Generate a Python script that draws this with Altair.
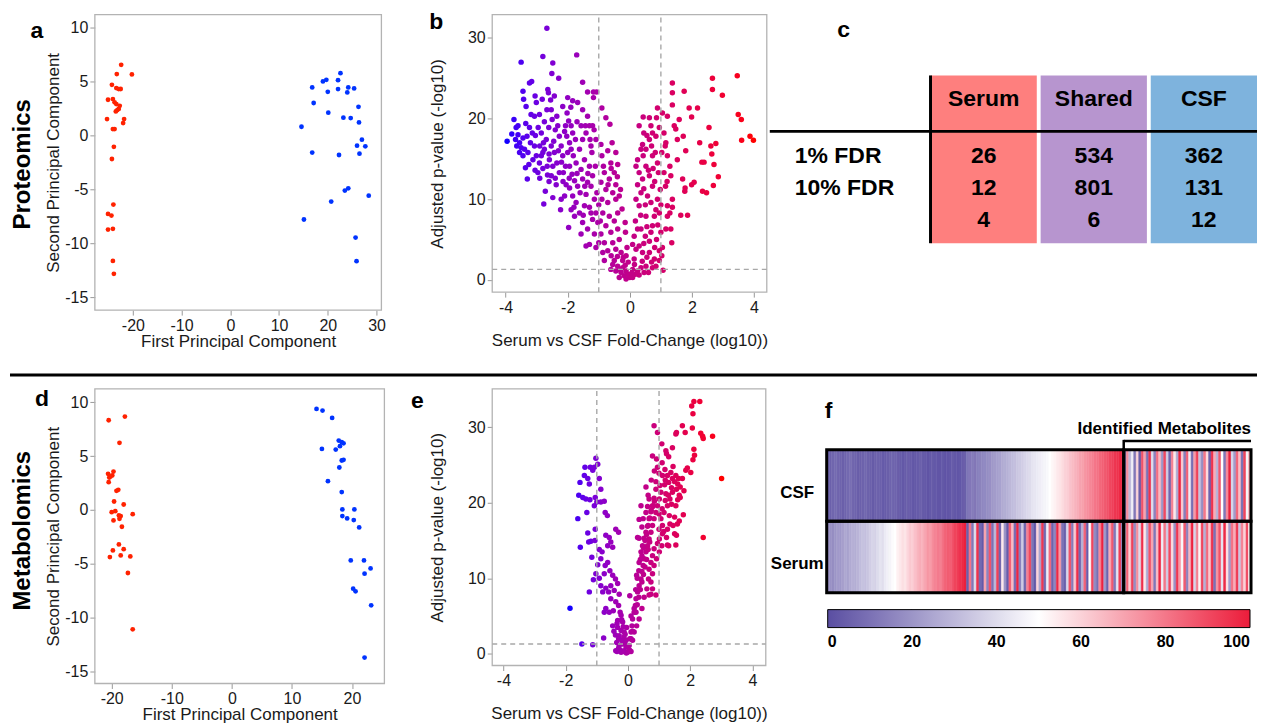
import altair as alt
import pandas as pd

FONT = "Liberation Sans"
INK = "#1a1a1a"
FRAME = "#b3b3b3"
RED = "#ff2200"
BLUE = "#0033ff"

# ---------------- Panel a : proteomics PCA ----------------
A_SERUM_X = [-22.4, -20.2, -23.3, -24.3, -23.4, -22.9, -22.5, -25.1, -24.1, -23.75, -23.4, -22.7, -23.5, -23.2, -22.9,
             -25.3, -21.8, -22.0, -24.1, -23.75, -23.9, -24.3, -24.0, -25.1, -24.4, -25.1, -24.1, -24.1, -23.9]
A_SERUM_Y = [6.54, 5.65, 5.68, 4.69, 4.38, 4.29, 4.30, 3.30, 3.36, 3.06, 2.90, 2.74, 2.22, 2.34, 2.45,
             1.51, 1.51, 1.14, 0.58, 0.58, -1.06, -2.19, -6.42, -7.28, -7.44, -8.73, -8.67, -11.64, -12.84]
A_CSF_X = [14.6, 16.8, 17.1, 16.8, 15.1, 19.0, 19.7, 20.0, 20.1, 22.1, 22.1, 22.6, 22.3, 20.7, 23.2,
           24.2, 24.0, 25.4, 24.7, 23.5, 24.2, 26.3, 26.4, 27.0, 26.0, 27.7, 26.5, 28.4, 25.7, 25.9]
A_CSF_Y = [0.80, 4.44, 3.0, -1.6, -7.8, 5.0, 5.15, 4.04, 2.1, 5.12, 4.29, 5.77, -1.82, -6.14, 1.64,
           4.44, 3.98, 4.35, 1.60, -5.12, -4.91, 2.65, 1.20, -0.40, -0.96, -1.02, -1.70, -5.59, -9.48, -11.67]

# ---------------- Panel d : metabolomics PCA ----------------
D_SERUM_X = [-20.5, -17.8, -18.7, -20.6, -20.4, -19.9, -19.7, -20.2, -20.5, -19.2, -18.9, -19.6, -18.0, -20.0, -19.4,
             -18.8, -18.5, -19.7, -18.7, -16.5, -18.3, -18.8, -19.8, -18.0, -18.5, -20.3, -16.9, -17.3, -16.5]
D_SERUM_Y = [8.33, 8.67, 6.23, 3.35, 3.0, 3.2, 3.56, 3.1, 2.57, 1.77, 1.86, 0.78, 0.50, -0.21, -0.12,
             -0.52, -0.58, -0.98, -0.83, -0.40, -1.57, -3.21, -3.77, -3.65, -4.23, -4.39, -4.33, -5.87, -11.1]
D_CSF_X = [14.1, 15.1, 16.7, 17.8, 18.3, 18.6, 18.0, 15.0, 17.3, 18.3, 18.6, 17.9, 16.0, 18.3, 18.4,
           20.4, 18.4, 19.2, 20.3, 21.2, 19.8, 22.0, 23.1, 22.1, 20.2, 20.6, 23.2, 22.1]
D_CSF_Y = [9.38, 9.23, 8.55, 6.44, 6.29, 6.19, 5.92, 5.67, 5.61, 4.59, 4.65, 3.94, 2.67, 1.65, 0.04,
           0.04, -0.58, -0.80, -0.95, -1.63, -4.70, -4.70, -5.44, -5.93, -7.33, -7.57, -8.87, -13.73]

# ---------------- Panel b : proteomics volcano (fold-change, -log10 p) ----------------
VB_FAR_LEFT = [(-3.95, 17.2), (-3.73, 19.9), (-3.66, 18.9), (-3.60, 18.0), (-3.68, 17.4), (-3.55, 17.0), (-3.64, 16.6),
               (-3.50, 16.4), (-3.39, 16.2), (-3.28, 15.8), (-3.44, 15.4), (-3.55, 15.8), (-3.36, 13.9), (-3.25, 14.3),
               (-3.30, 12.5), (-3.12, 14.9), (-3.07, 16.6), (-3.04, 17.9), (-3.14, 18.2), (-3.23, 18.9), (-3.18, 20.5),
               (-3.07, 20.3), (-3.23, 24.4), (-3.42, 22.4), (-3.31, 17.8), (-3.44, 17.6), (-3.01, 15.4), (-3.50, 27.0),
               (-3.16, 24.6), (-3.44, 23.4), (-3.05, 22.8), (-3.60, 19.1), (-3.34, 21.5), (-3.8, 18.1), (-3.35, 19.4),
               (-3.2, 17.0), (-3.05, 13.6)]
VB_LEFT = [(-2.67, 31.2), (-2.80, 27.7), (-2.48, 26.9), (-2.51, 25.6), (-2.29, 25.0), (-2.64, 23.6), (-2.62, 23.2),
           (-2.43, 22.8), (-2.0, 22.6), (-1.84, 22.2), (-1.71, 27.9), (-1.52, 24.5), (-1.36, 23.3), (-1.17, 23.3),
           (-1.07, 23.3), (-2.96, 13.3), (-2.91, 14.5), (-2.85, 15.4), (-2.80, 15.8), (-2.72, 11.0), (-2.77, 9.4),
           (-2.66, 14.1), (-2.59, 14.9), (-2.53, 12.9), (-2.48, 14.1), (-2.43, 15.8), (-2.53, 16.6), (-2.69, 17.4),
           (-2.85, 18.2), (-2.78, 17.0), (-2.61, 18.9), (-2.50, 19.9), (-2.67, 21.1), (-2.53, 21.1), (-2.91, 20.5),
           (-3.01, 22.0), (-2.82, 22.4), (-2.35, 20.3), (-2.32, 19.1), (-2.27, 17.8), (-2.21, 16.6), (-2.16, 15.4),
           (-2.35, 14.5), (-2.27, 13.3), (-2.37, 11.8), (-2.48, 10.2), (-2.21, 10.0), (-2.23, 8.7), (-2.10, 10.4),
           (-2.05, 11.8), (-2.14, 13.3), (-2.07, 14.1), (-2.03, 17.8), (-2.07, 19.1), (-2.16, 21.5), (-2.02, 20.7),
           (-2.9, 16.6), (-2.75, 16.2), (-2.6, 15.6), (-2.45, 17.2), (-2.3, 16.0), (-2.2, 14.6), (-2.0, 15.8),
           (-2.6, 12.2), (-2.4, 12.6), (-2.15, 12.2), (-2.95, 18.9), (-2.75, 19.6), (-2.4, 18.6), (-2.1, 18.4),
           (-2.55, 22.3), (-2.8, 13.8), (-2.65, 13.0), (-2.9, 12.6)]
VB_MID_LEFT = [(-1.97, 19.7), (-1.89, 19.1), (-1.84, 18.2), (-1.75, 17.4), (-1.94, 17.0), (-1.89, 16.2), (-1.82, 15.4),
               (-1.73, 14.5), (-1.94, 14.1), (-1.86, 13.1), (-1.78, 12.3), (-1.68, 11.6), (-1.94, 11.4), (-1.84, 10.4),
               (-1.73, 9.6), (-1.89, 8.7), (-1.97, 6.5), (-1.78, 7.9), (-1.62, 8.3), (-1.57, 5.7), (-1.52, 7.1),
               (-1.46, 9.2), (-1.41, 10.6), (-1.36, 12.1), (-1.52, 12.5), (-1.57, 13.7), (-1.46, 14.9), (-1.62, 16.2),
               (-1.52, 17.4), (-1.41, 18.2), (-1.57, 19.1), (-1.43, 19.1), (-1.30, 19.1), (-1.20, 19.1), (-1.68, 22.0),
               (-1.52, 21.1), (-1.36, 20.3), (-1.28, 17.4), (-1.22, 15.8), (-1.30, 14.1), (-1.20, 12.9), (-1.25, 11.6),
               (-1.14, 10.0), (-1.30, 9.0), (-1.20, 7.5), (-1.36, 6.3), (-1.41, 4.2), (-1.30, 4.4), (-1.09, 4.0),
               (-1.00, 4.6), (-1.14, 5.7), (-1.03, 7.1), (-1.09, 8.3), (-1.06, 10.8), (-1.11, 14.1), (-1.09, 17.4),
               (-1.17, 22.6), (-1.95, 12.6), (-1.7, 13.2), (-1.6, 10.8), (-1.45, 11.6), (-1.35, 13.2), (-1.25, 16.6),
               (-1.15, 18.6), (-1.8, 9.0), (-1.5, 8.0), (-1.25, 8.3), (-1.9, 21.4), (-1.7, 19.6)]
VB_CENTER_LEFT = [(-0.93, 16.8), (-0.90, 15.4), (-0.85, 14.1), (-0.82, 13.3), (-0.93, 12.1), (-0.77, 11.2), (-0.90, 10.0),
                  (-0.71, 9.6), (-0.87, 8.3), (-0.66, 7.9), (-0.77, 6.7), (-0.93, 5.7), (-0.61, 5.9), (-0.82, 4.6),
                  (-0.55, 4.6), (-0.87, 3.4), (-0.71, 3.6), (-0.82, 2.4), (-0.45, 3.8), (-0.34, 5.0), (-0.39, 6.3),
                  (-0.50, 7.3), (-0.39, 8.3), (-0.45, 10.0), (-0.55, 10.8), (-0.45, 11.8), (-0.66, 12.5), (-0.50, 13.3),
                  (-0.61, 14.5), (-0.39, 14.3), (-0.71, 16.0), (-0.57, 17.0), (-0.45, 15.8), (-0.64, 19.3), (-0.77, 20.1),
                  (-0.90, 21.3), (-0.34, 10.4), (-0.28, 3.4), (-0.23, 2.4), (-0.55, 1.9), (-0.39, 1.7), (-0.23, 1.5),
                  (-0.12, 1.1), (-0.07, 0.7), (0.0, 0.3), (-0.18, 0.5), (-0.28, 0.9), (-0.45, 1.1), (-0.61, 1.3),
                  (-0.34, 0.3), (-0.12, 0.1), (-0.21, 2.8), (-0.12, 3.0), (-0.09, 4.0), (-0.14, 5.9), (-0.15, 7.1),
                  (-0.95, 7.3), (-1.0, 9.3), (-0.7, 11.8), (-0.6, 13.8), (-0.4, 12.8), (-0.3, 11.2), (-0.25, 8.8),
                  (-0.6, 3.0), (-0.5, 2.4), (-0.4, 2.9), (-0.3, 1.2), (-0.15, 1.8), (-0.05, 2.2)]
VB_CENTER_RIGHT = [(0.09, 0.3), (0.18, 0.7), (0.25, 1.1), (0.36, 1.5), (0.09, 1.3), (0.46, 0.9), (0.52, 1.7), (0.73, 1.5),
                   (0.84, 1.7), (0.95, 2.4), (0.79, 2.6), (0.63, 3.4), (0.14, 2.6), (0.20, 3.8), (0.09, 4.4), (0.30, 4.2),
                   (0.41, 3.4), (0.14, 5.4), (0.25, 6.3), (0.18, 7.3), (0.36, 6.3), (0.50, 5.4), (0.63, 4.8), (0.68, 5.9),
                   (0.73, 6.7), (0.86, 5.0), (0.52, 7.9), (0.30, 9.2), (0.20, 10.0), (0.36, 10.8), (0.25, 11.8),
                   (0.41, 12.5), (0.30, 13.3), (0.20, 14.1), (0.25, 14.9), (0.43, 15.4), (0.52, 14.1), (0.63, 12.9),
                   (0.73, 11.6), (0.57, 10.4), (0.68, 9.6), (0.84, 8.7), (0.95, 8.3), (0.79, 7.9), (0.52, 16.2),
                   (0.63, 17.4), (0.73, 18.2), (0.84, 17.8), (0.68, 19.1), (0.30, 19.1), (0.43, 20.2), (0.63, 20.1),
                   (0.86, 20.1), (0.89, 21.3), (0.82, 15.8), (0.89, 14.5), (0.92, 13.3), (0.73, 15.4), (0.41, 16.8),
                   (0.36, 16.2), (0.98, 11.2), (0.89, 10.0), (1.0, 5.9), (0.05, 0.8), (0.15, 1.9), (0.3, 0.6),
                   (0.4, 2.3), (0.55, 2.8), (0.7, 2.2), (0.6, 0.9), (0.45, 4.5), (0.55, 6.6), (0.35, 8.0), (0.5, 9.3),
                   (0.45, 11.3), (0.6, 13.6), (0.75, 13.8), (0.8, 12.2), (0.55, 17.9), (0.7, 16.6), (0.45, 18.2),
                   (0.95, 18.9), (0.9, 6.8), (0.8, 4.0), (0.95, 3.6)]
VB_RIGHT = [(1.05, 20.7), (1.21, 20.3), (1.10, 18.2), (1.16, 17.0), (1.03, 15.8), (1.14, 16.6), (1.21, 15.4), (1.29, 14.1),
            (1.10, 13.3), (1.32, 12.9), (1.21, 9.2), (1.37, 10.0), (1.29, 8.3), (1.37, 9.0), (1.21, 7.9), (1.16, 6.3),
            (1.32, 6.3), (1.35, 4.6), (1.05, 4.0), (1.03, 3.0), (1.07, 1.2), (1.37, 24.4), (1.37, 23.2), (1.37, 21.7),
            (1.43, 19.1), (1.53, 17.4), (1.48, 18.7), (1.75, 23.4), (1.59, 19.9), (1.72, 17.8), (1.53, 14.9),
            (1.70, 12.5), (1.78, 11.4), (1.77, 11.0), (1.80, 16.0), (1.64, 8.0), (1.86, 8.0), (1.91, 21.3),
            (1.99, 20.2), (1.99, 11.8), (1.15, 11.6), (1.2, 12.2), (1.0, 9.3), (2.18, 21.3), (2.07, 12.1),
            (2.25, 17.0), (2.32, 14.6), (2.39, 14.6), (2.34, 11.0), (2.47, 10.8), (2.55, 18.9), (2.61, 16.6),
            (2.64, 15.6), (2.66, 25.0), (2.66, 23.6), (2.71, 14.3), (2.69, 11.7), (2.77, 16.9), (2.85, 12.8),
            (2.98, 22.9), (3.46, 25.3), (3.49, 20.5), (3.60, 17.3), (3.59, 19.9), (3.87, 17.8), (3.98, 17.3)]

# ---------------- Panel e : metabolomics volcano ----------------
VE_LEFT = [(-1.86, 6.04), (-1.61, 17.9), (-1.53, 14.1), (-1.48, 1.3), (-1.13, 1.2), (-1.54, 22.7), (-1.58, 21.0),
           (-1.38, 24.7), (-1.40, 23.6), (-1.29, 23.2), (-1.24, 22.5), (-1.21, 24.7), (-1.13, 24.3), (-1.03, 25.9),
           (-0.97, 25.1), (-1.08, 24.7), (-0.92, 23.2), (-0.87, 21.8), (-1.45, 20.7), (-1.35, 20.5), (-1.22, 20.4),
           (-1.08, 19.6), (-1.0, 20.1), (-0.87, 20.1), (-0.76, 20.2), (-0.73, 18.7), (-0.66, 18.3), (-1.05, 20.7),
           (-1.32, 18.7), (-1.29, 16.0), (-1.19, 14.9), (-1.06, 15.0), (-1.26, 14.8), (-1.05, 16.5), (-1.16, 12.8),
           (-0.92, 13.8), (-0.83, 13.5), (-0.87, 12.6), (-0.97, 11.8), (-0.73, 11.7), (-0.65, 12.1), (-0.60, 15.4),
           (-0.55, 14.8), (-0.65, 14.3), (-0.49, 14.1), (-0.39, 16.5), (-0.30, 16.1), (-0.71, 15.7), (-1.03, 10.6),
           (-1.11, 9.8), (-0.92, 10.0), (-0.76, 10.6), (-0.58, 11.0), (-0.49, 10.4), (-0.40, 9.9), (-0.87, 9.0),
           (-0.71, 8.7), (-0.55, 9.0), (-0.33, 9.3), (-1.24, 8.2), (-0.81, 8.2), (-0.62, 8.2), (-0.44, 8.4),
           (-0.28, 7.9), (-0.55, 7.3), (-0.39, 6.9), (-0.71, 6.0), (-0.76, 5.5), (-0.60, 5.5), (-0.47, 5.7),
           (-0.30, 6.4), (-0.78, 2.1)]
VE_CENTER = [(-0.22, 5.1), (-0.33, 4.4), (-0.17, 4.2), (-0.49, 3.7), (-0.33, 3.5), (-0.22, 3.1), (-0.12, 2.9),
             (-0.28, 2.4), (-0.13, 2.2), (-0.36, 1.5), (-0.28, 1.1), (-0.17, 1.3), (-0.06, 0.9), (-0.39, 0.4),
             (-0.22, 0.2), (-0.12, 0.4), (-0.01, 0.2), (-0.30, 0.75), (-0.06, 1.8), (-0.09, 2.6), (-0.04, 3.5),
             (0.04, 1.1), (0.06, 2.0), (0.10, 2.9), (0.13, 3.7), (0.15, 4.6), (0.20, 5.5), (0.24, 6.4), (0.06, 7.7),
             (0.05, 0.5), (0.1, 0.3), (-0.05, 0.1), (-0.15, 0.3), (-0.25, 0.5), (-0.35, 0.3), (-0.1, 1.5),
             (-0.2, 1.8), (-0.3, 2.0), (-0.4, 2.5), (-0.45, 3.0), (-0.35, 4.0), (-0.25, 5.5), (-0.2, 4.5),
             (-0.15, 3.6), (0.1, 5.0), (0.2, 6.0), (0.15, 3.0), (0.1, 2.0)]
VE_RIGHT = [(0.26, 7.3), (0.31, 8.2), (0.36, 9.0), (0.42, 9.9), (0.28, 10.4), (0.45, 10.9), (0.49, 11.7), (0.52, 12.6),
            (0.36, 12.1), (0.58, 13.5), (0.42, 13.5), (0.63, 14.3), (0.47, 14.3), (0.68, 15.2), (0.52, 15.3),
            (0.36, 15.3), (0.74, 16.1), (0.58, 16.1), (0.79, 17.0), (0.63, 16.9), (0.45, 16.8), (0.84, 17.9),
            (0.68, 17.9), (0.49, 17.9), (0.90, 18.7), (0.74, 18.8), (0.58, 18.7), (0.95, 19.6), (0.79, 19.6),
            (0.63, 19.5), (0.42, 19.6), (0.36, 17.8), (0.31, 15.4), (1.01, 20.5), (0.84, 20.6), (0.68, 20.5),
            (0.58, 22.1), (1.06, 21.4), (1.22, 21.2), (0.90, 21.8), (1.03, 22.3), (1.18, 22.4), (1.31, 22.7),
            (1.27, 23.6), (1.43, 23.2), (1.11, 23.6), (1.38, 24.0), (1.54, 23.6), (1.19, 24.4), (1.45, 24.8),
            (1.63, 23.2), (1.75, 23.2), (1.56, 21.8), (1.68, 22.1), (1.80, 21.6), (1.65, 21.0), (1.43, 21.4),
            (1.35, 20.5), (1.54, 19.6), (1.68, 20.7), (1.27, 19.6), (1.16, 18.7), (1.33, 18.3), (1.50, 18.1),
            (1.65, 17.6), (1.45, 17.0), (1.06, 17.9), (1.11, 17.0), (1.27, 16.5), (1.50, 15.9), (1.56, 15.7),
            (1.24, 15.4), (1.11, 15.9), (1.01, 15.2), (0.95, 14.6), (1.09, 14.3), (1.27, 14.4), (0.84, 13.9),
            (1.01, 13.5), (0.79, 13.0), (0.92, 12.6), (0.74, 12.1), (0.84, 11.7), (0.68, 11.2), (0.79, 10.6),
            (0.66, 9.9), (0.74, 9.5), (0.61, 8.6), (0.79, 8.6), (0.52, 7.5), (0.68, 7.8), (0.45, 6.0), (0.36, 4.6),
            (0.28, 3.7), (0.20, 2.9), (0.15, 1.8), (0.26, 5.5), (0.90, 7.8), (0.74, 7.9), (1.31, 14.3),
            (1.54, 14.4), (1.78, 18.4), (1.59, 17.2), (0.25, 8.5), (0.3, 10.0), (0.35, 11.0), (0.4, 12.5),
            (0.45, 13.0), (0.5, 14.0), (0.55, 15.0), (0.6, 15.8), (0.65, 17.0), (0.7, 18.0), (0.75, 19.0),
            (0.8, 19.5), (0.85, 20.2), (0.55, 11.5), (0.6, 12.5), (0.65, 13.8), (0.7, 14.8), (0.45, 9.5),
            (0.5, 10.5), (0.35, 7.5), (0.4, 8.5), (0.3, 6.5), (1.0, 18.5), (1.1, 19.2), (1.2, 20.3), (1.3, 21.0),
            (1.4, 22.0), (1.5, 22.8), (1.6, 22.5), (1.0, 16.5), (1.15, 16.2), (1.35, 17.2), (1.4, 19.8),
            (1.6, 20.4), (1.2, 23.0), (1.0, 23.9), (0.9, 22.8), (0.95, 24.7), (1.1, 25.3), (0.65, 21.0),
            (0.75, 23.0), (0.85, 24.2)]
VE_TOP = [(0.79, 26.2), (0.92, 25.8), (0.84, 30.2), (0.95, 29.3), (1.09, 27.8), (1.22, 26.9), (1.24, 26.5),
          (1.31, 26.1), (1.43, 27.3), (1.54, 29.1), (1.56, 29.3), (1.75, 30.2), (1.84, 29.3), (2.07, 29.9),
          (2.05, 32.8), (2.09, 31.8), (2.12, 33.4), (2.31, 33.4), (2.34, 29.2), (2.40, 28.8), (2.42, 28.5),
          (2.12, 27.1), (2.14, 26.3), (2.09, 25.7), (2.02, 24.0), (1.91, 24.6), (1.86, 24.3), (2.72, 28.8),
          (3.01, 23.2), (2.42, 15.4)]

P_CUTOFF = 1.3
FC_CUTOFFS = [-1, 1]

# ---------------- Panel c : table ----------------
TBL_COLS = ["Serum", "Shared", "CSF"]
TBL_FILLS = ["#fe7f7e", "#b795cf", "#7eb3dd"]
TBL_ROW_IDS = ["r1", "r2", "r3"]
TBL_ROW_LABELS = ["1% FDR", "10% FDR", ""]
TBL_SERUM = [26, 12, 4]
TBL_SHARED = [534, 801, 6]
TBL_CSF = [362, 131, 12]

# ---------------- Panel f : heatmap percentiles ----------------
CSF_UNID = [6, 5, 7, 8, 7, 6, 5, 6, 8, 9, 7, 6, 5, 5, 6, 7, 6, 5, 4, 5, 6, 5, 4, 4, 5, 6, 7, 6, 5, 4, 3, 4, 5, 4, 3, 3,
            4, 5, 4, 3, 2, 3, 4, 3, 2, 2, 3, 2, 2, 3, 4, 3, 2, 3, 4, 5,
            11, 12, 13, 12, 14, 15, 16, 17, 18, 19, 21, 22, 23, 24, 26, 27, 28, 30, 31, 32, 34, 35, 36, 38, 39, 40,
            42, 43, 44, 45, 46, 47, 48, 50,
            52, 53, 55, 56, 58, 60, 61, 63, 65, 66, 68, 70, 71, 73, 75, 76, 78, 80, 81, 83, 85, 86, 88, 90, 92, 94,
            95, 97, 99]
CSF_ID = [8, 75, 30, 45, 12, 60, 5, 88, 70, 10, 95, 40, 15, 82, 65, 20, 90, 35, 7, 78, 55, 25, 98, 62, 14, 85, 45, 9,
          72, 92, 33, 18, 80, 58, 6, 95, 68, 28, 87, 50, 12, 76, 99, 38, 22, 84, 64, 10, 91, 47, 70]
SERUM_SORTED = [18, 19, 18, 20, 22, 21, 23, 25, 24, 26, 28, 27, 29, 31, 33, 32, 34, 36, 38, 37, 40, 42, 41, 44, 46,
                47, 49, 50, 53, 55, 57, 56, 59, 62, 61, 64, 66, 68, 67, 70, 73, 72, 75, 77, 79, 78, 81, 84, 86, 85,
                88, 91, 93, 95, 97, 99]
SERUM_REST = [5, 80, 12, 40, 95, 8, 3, 70, 15, 88, 10, 30, 92, 6, 55, 20, 4, 85, 65, 9, 98, 14, 35, 7, 78, 90, 11, 3,
              60, 25, 94, 8, 45, 82, 6, 16, 97, 72, 10, 5, 38, 88, 13, 62, 96, 7, 28, 84, 4, 50, 91, 18, 9, 76, 99,
              22, 6, 68, 87, 12, 42, 93, 15]
SERUM_ID = [30, 85, 60, 92, 18, 75, 40, 96, 55, 25, 88, 70, 12, 65, 98, 45, 80, 35, 90, 58, 20, 94, 72, 48, 86, 15,
            66, 99, 38, 78, 52, 91, 28, 83, 62, 95, 10, 74, 88, 42, 97, 57, 22, 81, 68, 93, 34, 77, 60, 89, 50]
HEAT_ROWS = ["CSF", "Serum"]
HEAT_TICKS = [0, 20, 40, 60, 80, 100]
HEAT_MINOR = [20, 40, 60, 80]

# ================= layout constants (pixels) =================
ROW2 = 375          # top of the second row of panels, relative to the top of the first row
COL_GAP = 108
COL1_W, COL2_W, COL3_W = 290, 275, 383
C_OFF = 56          # table divider, relative to column 3 left edge
F_OFF = -48         # heatmap left edge, relative to column 3 left edge
PLAIN_LABEL = "'' + datum.value"   # hyphen-minus tick labels


def one_text(text, x, y, size, angle=0, align="center", weight="bold"):
    kw = dict(fontSize=size, fontWeight=weight, font=FONT, align=align, baseline="middle", color="black")
    if angle:
        kw["angle"] = angle
    return alt.Chart(pd.DataFrame({"t": [text]})).mark_text(**kw).encode(
        x=alt.value(x), y=alt.value(y), text="t:N")


def pca_panel(sx, sy, cx, cy, xdom, ydom, xticks, xrange, yrange, xoff, letter, lxy, row_label, rxy):
    xsc = alt.Scale(domain=xdom, range=xrange, nice=False, zero=False)
    ysc = alt.Scale(domain=ydom, range=yrange, nice=False, zero=False)
    xax = alt.Axis(values=xticks, title="First Principal Component", titlePadding=0, orient="bottom",
                   offset=xoff, labelExpr=PLAIN_LABEL)
    yax = alt.Axis(values=[-15, -10, -5, 0, 5, 10], title="Second Principal Component", titlePadding=2,
                   orient="left", labelExpr=PLAIN_LABEL)
    df = pd.DataFrame({
        "pc1": list(sx) + list(cx),
        "pc2": list(sy) + list(cy),
        "group": ["Serum"] * len(sx) + ["CSF"] * len(cx),
    })
    frame = alt.Chart(pd.DataFrame({"pc1": [xdom[0]], "pc1e": [xdom[1]], "pc2": [ydom[0]], "pc2e": [ydom[1]]})
                      ).mark_rect(filled=False, stroke=FRAME, strokeWidth=1.3).encode(
        x=alt.X("pc1:Q", scale=xsc, axis=xax), x2="pc1e:Q",
        y=alt.Y("pc2:Q", scale=ysc, axis=yax), y2="pc2e:Q")
    pts = alt.Chart(df).mark_circle(size=23, opacity=1).encode(
        x=alt.X("pc1:Q", scale=xsc, axis=xax),
        y=alt.Y("pc2:Q", scale=ysc, axis=yax),
        color=alt.Color("group:N", scale=alt.Scale(domain=["Serum", "CSF"], range=[RED, BLUE]), legend=None),
    )
    return alt.layer(frame, pts, one_text(letter, lxy[0], lxy[1], 23),
                     one_text(row_label, rxy[0], rxy[1], 24, angle=270))


def volcano_panel(point_lists, xdom, ydom, xrange, yrange, xoff, letter, lxy):
    pts_all = [p for lst in point_lists for p in lst]
    df = pd.DataFrame({"fc": [p[0] for p in pts_all], "p": [p[1] for p in pts_all]})
    cmin, cmax = float(df["fc"].min()), float(df["fc"].max())
    xsc = alt.Scale(domain=xdom, range=xrange, nice=False, zero=False)
    ysc = alt.Scale(domain=ydom, range=yrange, nice=False, zero=False)
    xax = alt.Axis(values=[-4, -2, 0, 2, 4], title="Serum vs CSF Fold-Change (log10))", titlePadding=17,
                   orient="bottom", offset=xoff, labelExpr=PLAIN_LABEL)
    yax = alt.Axis(values=[0, 10, 20, 30], title="Adjusted p-value (-log10)", titlePadding=21, orient="left",
                   labelExpr=PLAIN_LABEL)
    frame = alt.Chart(pd.DataFrame({"fc": [xdom[0]], "fce": [xdom[1]], "p": [ydom[0]], "pe": [ydom[1]]})
                      ).mark_rect(filled=False, stroke=FRAME, strokeWidth=1.3).encode(
        x=alt.X("fc:Q", scale=xsc, axis=xax), x2="fce:Q",
        y=alt.Y("p:Q", scale=ysc, axis=yax), y2="pe:Q")
    pts = alt.Chart(df).mark_circle(size=30, opacity=1).encode(
        x=alt.X("fc:Q", scale=xsc, axis=xax),
        y=alt.Y("p:Q", scale=ysc, axis=yax),
        color=alt.Color("fc:Q", scale=alt.Scale(domain=[cmin, cmax], range=["#1400ff", "#ff0000"],
                                                interpolate="lab"), legend=None),
    )
    dash = dict(color="#a8a8a8", strokeDash=[5, 4], strokeWidth=1.4)
    vl_df = pd.DataFrame({"fc": FC_CUTOFFS, "p": [ydom[0]] * len(FC_CUTOFFS), "pe": [ydom[1]] * len(FC_CUTOFFS)})
    vlines = alt.Chart(vl_df).mark_rule(**dash).encode(
        x=alt.X("fc:Q", scale=xsc, axis=xax), y=alt.Y("p:Q", scale=ysc, axis=yax), y2="pe:Q")
    hl_df = pd.DataFrame({"p": [P_CUTOFF], "fc": [xdom[0]], "fce": [xdom[1]]})
    hline = alt.Chart(hl_df).mark_rule(**dash).encode(
        y=alt.Y("p:Q", scale=ysc, axis=yax), x=alt.X("fc:Q", scale=xsc, axis=xax), x2="fce:Q")
    return alt.layer(frame, pts, vlines, hline, one_text(letter, lxy[0], lxy[1], 23))


# ================= column 1 : a (top) and d (bottom) =================
panel_a = pca_panel(A_SERUM_X, A_SERUM_Y, A_CSF_X, A_CSF_Y, [-27.8, 31.0], [-16.2, 11.2],
                    [-20, -10, 0, 10, 20, 30], [0, 287], [296, 0], 296 - (ROW2 + 295),
                    "a", (-58, 16), "Proteomics", (-72, 150))
panel_d = pca_panel(D_SERUM_X, D_SERUM_Y, D_CSF_X, D_CSF_Y, [-22.8, 25.4], [-16.14, 11.24],
                    [-20, -10, 0, 10, 20], [0, 290], [ROW2 + 295, ROW2], 0,
                    "d", (-53, ROW2 + 10), "Metabolomics", (-72, ROW2 + 142))
one = pd.DataFrame({"k": [0]})
separator = alt.Chart(one).mark_rule(color="black", strokeWidth=3).encode(
    x=alt.value(-85), x2=alt.value(1164), y=alt.value(ROW2 - 14))
col1 = alt.layer(panel_a, panel_d, separator).resolve_scale(
    x="independent", y="independent", color="independent").properties(width=COL1_W, height=ROW2 + 295)

# ================= column 2 : b (top) and e (bottom) =================
panel_b = volcano_panel([VB_FAR_LEFT, VB_LEFT, VB_MID_LEFT, VB_CENTER_LEFT, VB_CENTER_RIGHT, VB_RIGHT],
                        [-4.43, 4.41], [-1.52, 32.9], [0, 275], [278, 0], 278 - (ROW2 + 277), "b", (-56, 7))
panel_e = volcano_panel([VE_LEFT, VE_CENTER, VE_RIGHT, VE_TOP],
                        [-4.36, 4.43], [-1.55, 35.07], [0, 274], [ROW2 + 277, ROW2], 0, "e", (-75, ROW2 + 12))
col2 = alt.layer(panel_b, panel_e).resolve_scale(
    x="independent", y="independent", color="independent").properties(width=COL2_W, height=ROW2 + 277)

# ================= column 3 : c (table) and f (heatmap) =================
GAP = 0.035
hdr_df = pd.DataFrame({"col": TBL_COLS, "ci": [0, 1, 2]})
body_rows = []
for ci, (col, vals) in enumerate(zip(TBL_COLS, [TBL_SERUM, TBL_SHARED, TBL_CSF])):
    for rid, v in zip(TBL_ROW_IDS, vals):
        body_rows.append({"col": col, "ci": ci, "rowid": rid, "val": v})
body_df = pd.DataFrame(body_rows)
rowlab_df = pd.DataFrame({"rowid": TBL_ROW_IDS, "label": TBL_ROW_LABELS})

tx = alt.Scale(domain=[0, 3 - GAP], range=[C_OFF, C_OFF + 327], nice=False, zero=False)
ty = alt.Scale(domain=TBL_ROW_IDS, range=[142, 206], padding=0)

cells = alt.Chart(hdr_df).transform_calculate(ce=f"datum.ci + {1 - GAP}").mark_rect().encode(
    x=alt.X("ci:Q", scale=tx, axis=None), x2="ce:Q", y=alt.value(61), y2=alt.value(229),
    color=alt.Color("col:N", scale=alt.Scale(domain=TBL_COLS, range=TBL_FILLS), legend=None))
hdr_txt = alt.Chart(hdr_df).transform_calculate(cm=f"datum.ci + {(1 - GAP) / 2}").mark_text(
    font=FONT, fontSize=23, fontWeight="bold", color="black", baseline="middle").encode(
    x=alt.X("cm:Q", scale=tx, axis=None), y=alt.value(85), text="col:N")
body_txt = alt.Chart(body_df).transform_calculate(cm=f"datum.ci + {(1 - GAP) / 2}").mark_text(
    font=FONT, fontSize=23, fontWeight="bold", color="black", baseline="middle").encode(
    x=alt.X("cm:Q", scale=tx, axis=None), y=alt.Y("rowid:N", scale=ty, axis=None), text="val:Q")
row_txt = alt.Chart(rowlab_df).mark_text(font=FONT, fontSize=23, fontWeight="bold", color="black",
                                         align="left", baseline="middle").encode(
    x=alt.value(C_OFF - 136), y=alt.Y("rowid:N", scale=ty, axis=None), text="label:N")
hrule = alt.Chart(one).mark_rule(color="black", strokeWidth=3).encode(
    x=alt.value(C_OFF - 161), x2=alt.value(C_OFF + 327), y=alt.value(117))
vrule = alt.Chart(one).mark_rule(color="black", strokeWidth=3).encode(
    x=alt.value(C_OFF), y=alt.value(61), y2=alt.value(229))
panel_c = alt.layer(cells, hdr_txt, body_txt, row_txt, hrule, vrule, one_text("c", C_OFF - 87, 15, 23))

csf_vals = CSF_UNID + CSF_ID
serum_vals = SERUM_SORTED + SERUM_REST + SERUM_ID
N = len(csf_vals)
n_unid = len(CSF_UNID)
heat_df = pd.DataFrame({
    "i": list(range(N)) * 2,
    "row": [HEAT_ROWS[0]] * N + [HEAT_ROWS[1]] * N,
    "val": csf_vals + serum_vals,
})
heat_scale = alt.Scale(domain=[0, 50, 100], range=["#5a4ea2", "#ffffff", "#ec1c3a"], interpolate="rgb")
hx = alt.Scale(domain=[0, N], range=[F_OFF, F_OFF + 425], nice=False, zero=False)
hy = alt.Scale(domain=HEAT_ROWS, range=[ROW2 + 61, ROW2 + 204], paddingInner=0, paddingOuter=0)
hy_axis = alt.Axis(title=None, ticks=False, domain=False, labelFontSize=17, labelFontWeight="bold",
                   labelAlign="center", labelPadding=-F_OFF + 30, labelColor="black", orient="left",
                   labelOffset=7)
heat = alt.Chart(heat_df).transform_calculate(i2="datum.i + 1").mark_rect(strokeWidth=0.5).encode(
    x=alt.X("i:Q", scale=hx, axis=None),
    x2="i2:Q",
    y=alt.Y("row:N", scale=hy, axis=hy_axis),
    color=alt.Color("val:Q", scale=heat_scale, legend=alt.Legend(
        orient="none", legendX=F_OFF + 1, legendY=ROW2 + 221, direction="horizontal", gradientLength=423,
        gradientThickness=18, title=None, values=HEAT_TICKS, labelFontSize=16, labelFontWeight="bold",
        labelColor="black", labelFont=FONT, gradientStrokeColor="black", gradientStrokeWidth=1,
        labelOffset=6, padding=0)),
    stroke=alt.Stroke("val:Q", scale=heat_scale, legend=None),
)
box_df = pd.DataFrame({
    "row": [HEAT_ROWS[0], HEAT_ROWS[0], HEAT_ROWS[1], HEAT_ROWS[1]],
    "i": [0, n_unid, 0, n_unid],
    "i2": [n_unid, N, n_unid, N],
})
boxes = alt.Chart(box_df).mark_rect(filled=False, stroke="black", strokeWidth=3).encode(
    x=alt.X("i:Q", scale=hx, axis=None), x2="i2:Q", y=alt.Y("row:N", scale=hy, axis=hy_axis))
br_df = pd.DataFrame({"i": [n_unid], "i2": [N], "t": ["Identified Metabolites"]})
br_v = alt.Chart(br_df).mark_rule(color="black", strokeWidth=2.5).encode(
    x=alt.X("i:Q", scale=hx, axis=None), y=alt.value(ROW2 + 51), y2=alt.value(ROW2 + 61))
br_h = alt.Chart(br_df).mark_rule(color="black", strokeWidth=2.5).encode(
    x=alt.X("i:Q", scale=hx, axis=None), x2="i2:Q", y=alt.value(ROW2 + 52))
br_t = alt.Chart(br_df).mark_text(font=FONT, fontSize=17, fontWeight="bold", color="black",
                                  align="right", baseline="middle").encode(
    x=alt.X("i2:Q", scale=hx, axis=None), y=alt.value(ROW2 + 40), text="t:N")
# small tick marks on the colour bar (percentile -> column position)
cb_ticks = alt.Chart(pd.DataFrame({"pct": HEAT_MINOR})).transform_calculate(
    i=f"datum.pct / 100 * {N}")
cb_top = cb_ticks.mark_rule(color="#333333", strokeWidth=1).encode(
    x=alt.X("i:Q", scale=hx, axis=None), y=alt.value(ROW2 + 221), y2=alt.value(ROW2 + 225))
cb_bot = cb_ticks.mark_rule(color="#333333", strokeWidth=1).encode(
    x=alt.X("i:Q", scale=hx, axis=None), y=alt.value(ROW2 + 235), y2=alt.value(ROW2 + 239))
panel_f = alt.layer(heat, boxes, br_v, br_h, br_t, cb_top, cb_bot, one_text("f", F_OFF + 2, ROW2 + 22, 23))

col3 = alt.layer(panel_c, panel_f).resolve_scale(
    x="independent", y="independent", color="independent").properties(width=COL3_W, height=ROW2 + 255)

# ================= page =================
chart = alt.hconcat(col1, col2, col3, spacing=COL_GAP, bounds="flush").resolve_scale(
    color="independent").properties(
    padding={"left": 0, "top": 1, "right": 0, "bottom": 0}
).configure_view(stroke="transparent").configure_axis(
    labelFont=FONT, titleFont=FONT, labelFontSize=16, titleFontSize=17, titleFontWeight="normal",
    labelColor=INK, titleColor=INK, tickColor="#999999", tickSize=5, domain=False, grid=False, labelPadding=2
)

chart.save("out.html", embed_options={"renderer": "svg", "actions": False})
